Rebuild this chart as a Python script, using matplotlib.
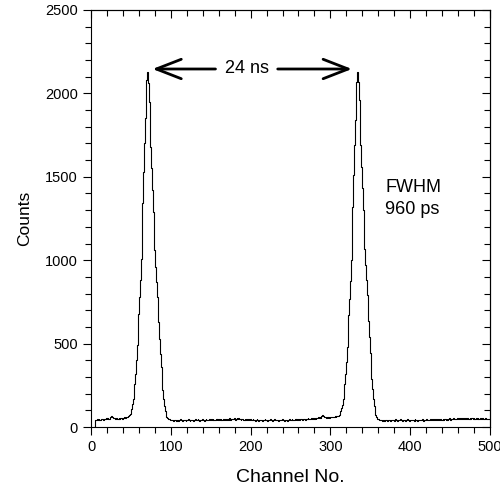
import numpy as np
import matplotlib
matplotlib.use("Agg")
import matplotlib.pyplot as plt
from matplotlib.ticker import MultipleLocator

plt.rcParams['font.family'] = ['Liberation Sans', 'DejaVu Sans']

first_channel = 4
start_counts = [0]
left_baseline = [38, 44, 40, 46, 42, 48, 44, 41, 47, 50,
                 45, 43, 49, 46, 52, 48, 55, 50, 47, 58,
                 62, 68, 60, 55, 52, 57, 49, 53, 47, 51,
                 55, 50, 52, 54, 51, 56, 55, 58, 57, 60, 58]
peak1 = [62, 66, 72, 80, 92, 110, 135, 170, 210, 260,
         320, 400, 490, 580, 680, 780, 880, 1010, 1150, 1340,
         1530, 1700, 1850, 1990, 2080, 2130, 2060, 1950, 1820, 1680,
         1550, 1420, 1290, 1160, 1060, 960, 870, 780, 720, 630,
         530, 440, 360, 290, 220, 170, 125, 95, 75, 62, 55, 50]
mid_baseline = [46, 42, 40, 44, 41, 38, 43, 40, 45, 39, 42, 44, 38, 41, 46, 40, 43, 39, 42, 45,
                41, 38, 44, 40, 47, 42, 39, 43, 45, 41, 38, 44, 42, 46, 40, 43, 48, 41, 39, 45,
                42, 40, 46, 44, 39, 43, 47, 41, 45, 42, 49, 44, 40, 46, 43, 48, 42, 45, 41, 47,
                44, 50, 43, 46, 41, 48, 45, 42, 47, 44, 51, 46, 43, 49, 45, 47, 52, 44, 48, 46,
                50, 47, 53, 45, 49, 56, 48, 52, 46, 50, 44, 48, 51, 45, 43, 47, 42, 49, 44, 46,
                41, 45, 48, 43, 40, 46, 42, 44, 39, 43, 47, 41, 38, 44, 42, 40, 45, 39, 43, 41,
                46, 40, 44, 38, 42, 45, 41, 47, 43, 39, 44, 42, 46, 40, 43, 41, 45, 39, 42, 44,
                40, 43, 46, 41, 38, 44, 42, 45, 39, 43, 41, 46, 44, 40, 47, 42, 45, 43, 48, 44,
                46, 42, 49, 45, 43, 47, 50, 44, 48, 46, 51, 45, 49, 47, 53, 48, 50, 46, 52, 55,
                49, 53, 51, 56, 50, 54, 52, 58, 55, 60, 57, 64, 70, 66, 61, 58, 62, 55, 59, 57,
                60, 56, 62, 58, 61, 59, 63, 60, 64, 62, 66, 65, 68, 72, 80]
peak2 = [95, 112, 130, 165, 205, 255, 315, 390, 480, 575,
         670, 770, 875, 1000, 1140, 1320, 1510, 1690, 1840, 1980,
         2070, 2130, 2070, 1960, 1830, 1690, 1560, 1430, 1300, 1170,
         1070, 970, 880, 790, 725, 635, 540, 445, 365, 290,
         225, 170, 125, 92, 70]
right_baseline = [58, 50, 46, 42, 44, 40, 43, 38, 41, 45, 39, 42, 44, 40, 37, 43, 41, 39, 44, 42,
                  40, 45, 38, 42, 46, 41, 39, 43, 40, 44, 47, 42, 39, 45, 41, 43, 38, 44, 42, 46,
                  41, 39, 43, 45, 40, 44, 42, 38, 46, 41, 43, 39, 45, 42, 40, 44, 41, 47, 43, 39,
                  44, 42, 46, 40, 43, 45, 41, 48, 44, 42, 46, 43, 49, 45, 41, 47, 44, 50, 46, 43,
                  48, 45, 42, 47, 44, 50, 46, 43, 49, 45, 48, 52, 46, 44, 50, 47, 53, 49, 46, 51,
                  48, 54, 50, 47, 52, 49, 55, 51, 48, 53, 50, 56, 52, 49, 54, 51, 47, 53, 50, 55,
                  52, 48, 54, 50, 46, 52, 49, 55, 51, 47, 53, 50, 48, 54, 51, 47, 52, 49, 46, 51, 48, 50]

counts = np.concatenate([start_counts, left_baseline, peak1, mid_baseline, peak2, right_baseline])
channels = np.arange(first_channel, first_channel + len(counts))

fig = plt.figure(figsize=(5.0, 4.97), dpi=100)
ax = fig.add_axes([0.182, 0.1408, 0.798, 0.8392])
ax.plot(channels, counts, drawstyle='steps-mid', color='black', lw=0.8)

ax.set_xlim(0, 500)
ax.set_ylim(0, 2500)
ax.xaxis.set_major_locator(MultipleLocator(100))
ax.xaxis.set_minor_locator(MultipleLocator(20))
ax.yaxis.set_major_locator(MultipleLocator(500))
ax.yaxis.set_minor_locator(MultipleLocator(100))
ax.tick_params(which='both', direction='out', labelsize=10.5, width=0.8, top=False, right=False)
ax.tick_params(which='major', length=6)
ax.tick_params(which='minor', length=4)
for s in ax.spines.values():
    s.set_linewidth(0.8)

secx = ax.secondary_xaxis('top')
secx.xaxis.set_major_locator(MultipleLocator(100))
secx.xaxis.set_minor_locator(MultipleLocator(20))
secx.tick_params(which='both', direction='in', labeltop=False, width=0.8)
secx.tick_params(which='major', length=6)
secx.tick_params(which='minor', length=4)
secy = ax.secondary_yaxis('right')
secy.yaxis.set_major_locator(MultipleLocator(500))
secy.yaxis.set_minor_locator(MultipleLocator(100))
secy.tick_params(which='both', direction='in', labelright=False, width=0.8)
secy.tick_params(which='major', length=6)
secy.tick_params(which='minor', length=4)
for sa in (secx, secy):
    for s in sa.spines.values():
        s.set_linewidth(0.8)

ax.set_xlabel('Channel No.', fontsize=14, labelpad=11)
ax.set_ylabel('Counts', fontsize=12.5, labelpad=9)

arrow_style = dict(arrowstyle='->,head_length=0.9,head_width=0.35', lw=2, color='black',
                   mutation_scale=20, shrinkA=0, shrinkB=0)
ax.annotate('', xy=(77, 2146), xytext=(156, 2146), arrowprops=arrow_style)
ax.annotate('', xy=(327, 2146), xytext=(234, 2146), arrowprops=arrow_style)
ax.text(196, 2146, '24 ns', fontsize=13, ha='center', va='center')
ax.text(369, 1370, 'FWHM\n960 ps', fontsize=13, ha='left', va='center', linespacing=1.4)

fig.savefig('out.png', dpi=100)
